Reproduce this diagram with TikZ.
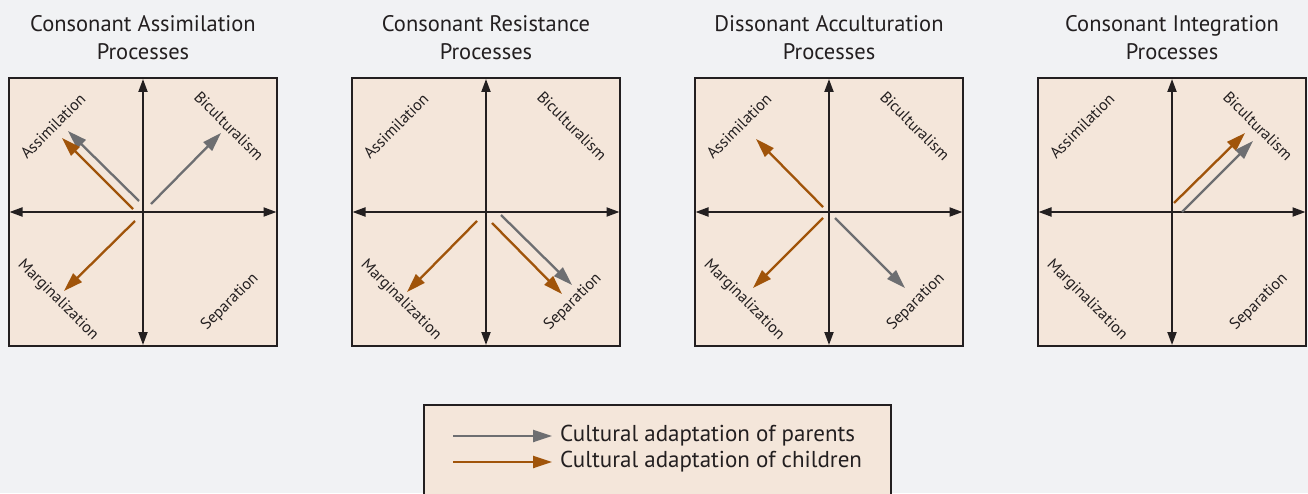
\documentclass[tikz,border=0pt]{standalone}
\usepackage{fontspec}
\setmainfont{PT Sans}
\usetikzlibrary{arrows.meta}
\definecolor{pagebg}{RGB}{241,242,244}
\definecolor{panelfill}{RGB}{244,230,218}
\definecolor{ink}{RGB}{35,31,32}
\definecolor{parentgrey}{RGB}{109,110,113}
\definecolor{childbrown}{RGB}{160,84,10}
\tikzset{
  panel/.style={draw=ink, line width=2pt, fill=panelfill, minimum width=268pt, minimum height=267pt, inner sep=0pt},
  axis/.style={draw=ink, line width=2pt, {Triangle[length=13pt,width=9pt]}-{Triangle[length=13pt,width=9pt]}, shorten <=1.5pt, shorten >=1.5pt},
  parent/.style={draw=parentgrey, line width=2.3pt, -{Triangle[length=19pt,width=12pt]}},
  child/.style={draw=childbrown, line width=2.3pt, -{Triangle[length=19pt,width=12pt]}},
  title/.style={text=ink, align=center, font=\fontsize{22.5}{28}\selectfont},
  quad/.style={text=ink, font=\fontsize{16}{18}\selectfont, inner sep=0pt},
  legendtext/.style={text=ink, anchor=west, font=\fontsize{23}{26}\selectfont, inner sep=0pt}
}
\newcommand{\quadrantframe}[2]{%
  \node[panel] (#1) at (#2,281) {};
  \draw[axis] (#1.west) -- (#1.east);
  \draw[axis] (#1.south) -- (#1.north);
  \node[quad, rotate=45] (#1-as) at ([shift={(-90,86)}]#1.center) {Assimilation};
  \node[quad, rotate=-45] (#1-bi) at ([shift={(86,86)}]#1.center) {Biculturalism};
  \node[quad, rotate=-45] (#1-ma) at ([shift={(-85,-88)}]#1.center) {Marginalization};
  \node[quad, rotate=45] (#1-se) at ([shift={(87,-90)}]#1.center) {Separation};
}
\begin{document}
\begin{tikzpicture}[x=1pt,y=1pt]
\useasboundingbox (0,0) rectangle (1308,493);
\fill[pagebg] (0,0) rectangle (1308,493);

% titles
\node[title] (t1) at (143,455) {Consonant Assimilation\\Processes};
\node[title] (t2) at (486,455) {Consonant Resistance\\Processes};
\node[title] (t3) at (829,455) {Dissonant Acculturation\\Processes};
\node[title] (t4) at (1172,455) {Consonant Integration\\Processes};

% four acculturation panels
\quadrantframe{p1}{143}
\quadrantframe{p2}{486}
\quadrantframe{p3}{829}
\quadrantframe{p4}{1172}

% panel 1: consonant assimilation
\begin{scope}[shift={(143,281)}]
  \coordinate (p1gs) at (-4,11);  \coordinate (p1ge) at (-75,81);
  \coordinate (p1cs) at (-10,3);  \coordinate (p1ce) at (-81,74);
  \coordinate (p1hs) at (8,8);    \coordinate (p1he) at (78,79);
  \coordinate (p1ms) at (-8,-9);  \coordinate (p1me) at (-79,-79);
\end{scope}
\draw[parent] (p1gs) -- (p1ge);
\draw[child] (p1cs) -- (p1ce);
\draw[parent] (p1hs) -- (p1he);
\draw[child] (p1ms) -- (p1me);

% panel 2: consonant resistance
\begin{scope}[shift={(486,281)}]
  \coordinate (p2ms) at (-9,-9);  \coordinate (p2me) at (-79,-80);
  \coordinate (p2cs) at (6,-11);  \coordinate (p2ce) at (76,-82);
  \coordinate (p2gs) at (15,-3);  \coordinate (p2ge) at (86,-73);
\end{scope}
\draw[child] (p2ms) -- (p2me);
\draw[child] (p2cs) -- (p2ce);
\draw[parent] (p2gs) -- (p2ge);

% panel 3: dissonant acculturation
\begin{scope}[shift={(829,281)}]
  \coordinate (p3as) at (-6,5);   \coordinate (p3ae) at (-73,73);
  \coordinate (p3ms) at (-6,-6);  \coordinate (p3me) at (-76,-76);
  \coordinate (p3gs) at (6,-6);   \coordinate (p3ge) at (76,-76);
\end{scope}
\draw[child] (p3as) -- (p3ae);
\draw[child] (p3ms) -- (p3me);
\draw[parent] (p3gs) -- (p3ge);

% panel 4: consonant integration
\begin{scope}[shift={(1172,281)}]
  \coordinate (p4cs) at (2,9);    \coordinate (p4ce) at (73,79);
  \coordinate (p4gs) at (10,0);   \coordinate (p4ge) at (81,71);
\end{scope}
\draw[child] (p4cs) -- (p4ce);
\draw[parent] (p4gs) -- (p4ge);

% legend
\node[draw=ink, line width=2pt, fill=panelfill, minimum width=467pt, minimum height=110pt, inner sep=0pt] (legend) at (657.5,33) {};
\coordinate (lgs) at (453,57); \coordinate (lge) at (552,57);
\coordinate (lcs) at (453,31); \coordinate (lce) at (552,31);
\draw[parent] (lgs) -- (lge);
\draw[child] (lcs) -- (lce);
\node[legendtext] (lgt) at (560,57) {Cultural adaptation of parents};
\node[legendtext] (lct) at (560,31) {Cultural adaptation of children};
\end{tikzpicture}
\end{document}
